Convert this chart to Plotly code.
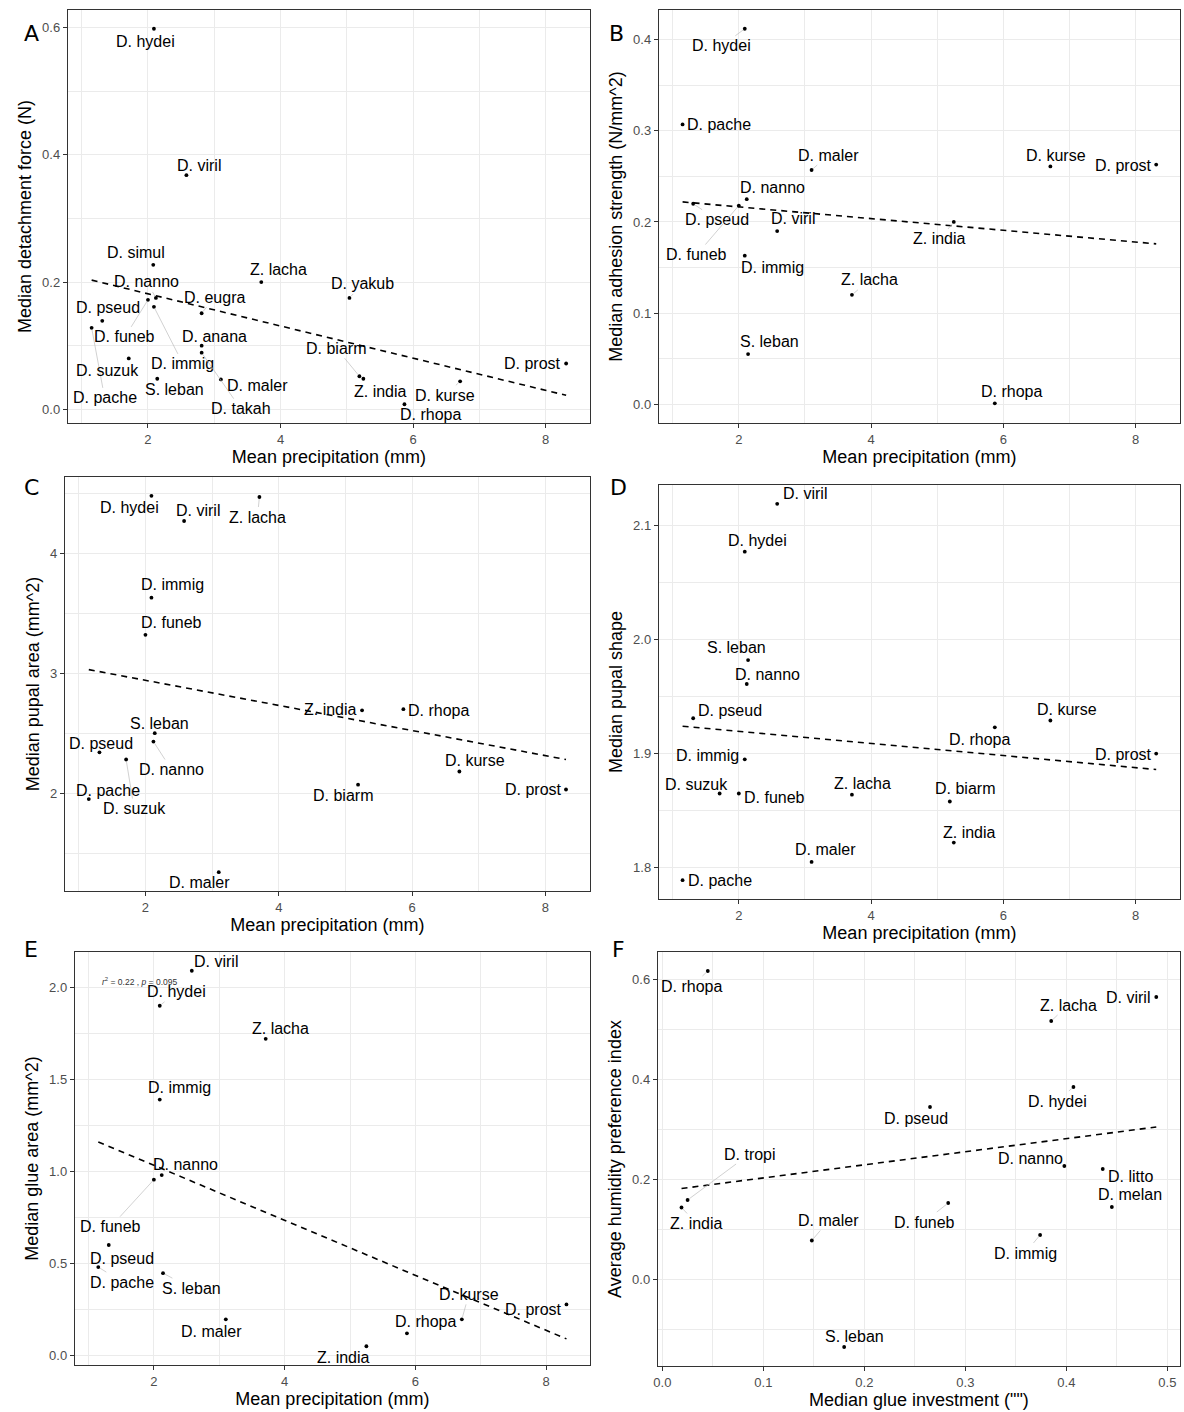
import math
import plotly.graph_objects as go

# ---------------- data ----------------
A_species = ["D. hydei", "D. viril", "D. simul", "D. nanno", "D. funeb", "D. immig", "D. pseud",
             "D. pache", "D. eugra", "D. anana", "D. takah", "D. suzuk", "S. leban", "D. maler",
             "Z. lacha", "D. yakub", "D. biarm", "Z. india", "D. kurse", "D. rhopa", "D. prost"]
A_precip = [2.09, 2.58, 2.08, 2.12, 2.00, 2.09, 1.31, 1.15, 2.81, 2.81, 2.81, 1.71, 2.14, 3.10,
            3.71, 5.04, 5.19, 5.25, 6.71, 5.87, 8.31]
A_force = [0.598, 0.368, 0.227, 0.175, 0.172, 0.161, 0.139, 0.128, 0.151, 0.100, 0.089, 0.080,
           0.048, 0.047, 0.200, 0.175, 0.052, 0.048, 0.044, 0.008, 0.072]
A_trend_x = [1.15, 8.31]
A_trend_y = [0.203, 0.022]

B_species = ["D. hydei", "D. pache", "D. maler", "D. kurse", "D. prost", "D. nanno", "D. pseud",
             "D. funeb", "D. viril", "D. immig", "Z. lacha", "Z. india", "S. leban", "D. rhopa"]
B_precip = [2.09, 1.15, 3.10, 6.71, 8.31, 2.12, 1.31, 2.00, 2.58, 2.09, 3.71, 5.25, 2.14, 5.87]
B_strength = [0.412, 0.307, 0.257, 0.261, 0.263, 0.225, 0.220, 0.218, 0.190, 0.163, 0.120,
              0.200, 0.055, 0.001]
B_trend_x = [1.15, 8.31]
B_trend_y = [0.222, 0.176]

C_species = ["D. hydei", "D. viril", "Z. lacha", "D. immig", "D. funeb", "Z. india", "D. rhopa",
             "S. leban", "D. nanno", "D. pseud", "D. suzuk", "D. pache", "D. biarm", "D. kurse",
             "D. prost", "D. maler"]
C_precip = [2.09, 2.58, 3.71, 2.09, 2.00, 5.25, 5.87, 2.14, 2.12, 1.31, 1.71, 1.15, 5.19, 6.71,
            8.31, 3.10]
C_area = [4.48, 4.27, 4.47, 3.63, 3.32, 2.69, 2.70, 2.50, 2.43, 2.34, 2.28, 1.95, 2.07, 2.18,
          2.03, 1.34]
C_trend_x = [1.15, 8.31]
C_trend_y = [3.03, 2.28]

D_species = ["D. viril", "D. hydei", "S. leban", "D. nanno", "D. pseud", "D. immig", "D. suzuk",
             "D. funeb", "Z. lacha", "D. maler", "D. pache", "D. rhopa", "D. kurse", "D. prost",
             "D. biarm", "Z. india"]
D_precip = [2.58, 2.09, 2.14, 2.12, 1.31, 2.09, 1.71, 2.00, 3.71, 3.10, 1.15, 5.87, 6.71, 8.31,
            5.19, 5.25]
D_shape = [2.119, 2.077, 1.982, 1.961, 1.931, 1.895, 1.865, 1.865, 1.864, 1.805, 1.789, 1.923,
           1.929, 1.900, 1.858, 1.822]
D_trend_x = [1.15, 8.31]
D_trend_y = [1.924, 1.886]

E_species = ["D. viril", "D. hydei", "Z. lacha", "D. immig", "D. nanno", "D. funeb", "D. pseud",
             "D. pache", "S. leban", "D. maler", "Z. india", "D. rhopa", "D. kurse", "D. prost"]
E_precip = [2.58, 2.09, 3.71, 2.09, 2.12, 2.00, 1.31, 1.15, 2.14, 3.10, 5.25, 5.87, 6.71, 8.31]
E_glue = [2.09, 1.90, 1.72, 1.39, 0.98, 0.955, 0.60, 0.48, 0.447, 0.196, 0.05, 0.12, 0.196, 0.277]
E_trend_x = [1.15, 8.31]
E_trend_y = [1.16, 0.09]
E_stat = "<i>r</i><sup>2</sup> = 0.22 , <i>p</i> = 0.095"

F_species = ["D. rhopa", "D. viril", "Z. lacha", "D. hydei", "D. pseud", "D. nanno", "D. litto",
             "D. melan", "D. funeb", "D. immig", "D. maler", "D. tropi", "Z. india", "S. leban"]
F_glue = [0.045, 0.489, 0.385, 0.407, 0.265, 0.398, 0.436, 0.445, 0.283, 0.374, 0.148, 0.025,
          0.019, 0.180]
F_humidity = [0.616, 0.564, 0.516, 0.384, 0.344, 0.226, 0.220, 0.144, 0.152, 0.088, 0.077, 0.158,
              0.143, -0.136]
F_trend_x = [0.019, 0.489]
F_trend_y = [0.181, 0.304]

# ---------------- label placement (pixel offsets, like ggrepel) ----------------
A_off = [(-8, 13), (13, -10), (-17, -12), (-9, -16), (-23, 37), (29, 57), (6, -13), (13, 70),
         (13, -16), (13, -9), (39, 56), (-21, 12), (17, 11), (37, 6), (17, -13), (13, -14),
         (-23, -28), (17, 13), (-15, 14), (26, 10), (-34, 0)]
B_off = [(-23, 17), (36, 0), (17, -15), (6, -11), (-33, 1), (26, -12), (24, 16), (-42, 49),
         (16, -13), (28, 12), (18, -15), (-14, 17), (21, -13), (17, -12)]
C_off = [(-22, 12), (14, -10), (-2, 20), (21, -13), (26, -12), (-32, -1), (35, 1), (5, -10),
         (18, 28), (2, -9), (8, 49), (19, -9), (-15, 11), (16, -11), (-33, 0), (-19, 10)]
D_off = [(28, -10), (13, -11), (-12, -13), (21, -10), (37, -8), (-37, -4), (-23, -9), (36, 4),
         (11, -11), (14, -12), (37, 0), (-15, 12), (17, -11), (-33, 1), (15, -13), (16, -10)]
E_off = [(24, -9), (17, -14), (15, -10), (20, -12), (24, -11), (-43, 47), (13, 13), (24, 15),
         (28, 15), (-14, 12), (-23, 11), (19, -12), (7, -25), (-33, 5)]
F_off = [(-16, 15), (-28, 0), (17, -16), (-16, 14), (-14, 11), (-34, -8), (28, 7), (18, -13),
         (-24, 19), (-15, 18), (17, -20), (62, -46), (15, 16), (10, -11)]

W, H = 1184, 1412
FONT = "Liberation Sans"
LABEL_SIZE = 16

panels = [
    dict(letter="A", sp=A_species, x=A_precip, y=A_force, off=A_off, tx=A_trend_x, ty=A_trend_y,
         box=(64, 588, 10, 423), xr=[0.79, 8.67], yr=[-0.0215, 0.6275], xd=2, yd=0.2, yfmt=".1f",
         xt="Mean precipitation (mm)", yt="Median detachment force (N)", lpos=(18, 19)),
    dict(letter="B", sp=B_species, x=B_precip, y=B_strength, off=B_off, tx=B_trend_x, ty=B_trend_y,
         box=(657, 1180, 10, 423), xr=[0.79, 8.67], yr=[-0.0206, 0.4326], xd=2, yd=0.1, yfmt=".1f",
         xt="Mean precipitation (mm)", yt="Median adhesion strength (N/mm^2)", lpos=(615, 19)),
    dict(letter="C", sp=C_species, x=C_precip, y=C_area, off=C_off, tx=C_trend_x, ty=C_trend_y,
         box=(61, 588, 477, 891), xr=[0.79, 8.67], yr=[1.183, 4.637], xd=2, yd=1, yfmt="d",
         xt="Mean precipitation (mm)", yt="Median pupal area (mm^2)", lpos=(18, 487)),
    dict(letter="D", sp=D_species, x=D_precip, y=D_shape, off=D_off, tx=D_trend_x, ty=D_trend_y,
         box=(657, 1180, 485, 899), xr=[0.79, 8.67], yr=[1.7725, 2.1355], xd=2, yd=0.1, yfmt=".1f",
         xt="Mean precipitation (mm)", yt="Median pupal shape", lpos=(617, 487)),
    dict(letter="E", sp=E_species, x=E_precip, y=E_glue, off=E_off, tx=E_trend_x, ty=E_trend_y,
         box=(71, 588, 952, 1365), xr=[0.79, 8.67], yr=[-0.052, 2.192], xd=2, yd=0.5, yfmt=".1f",
         xt="Mean precipitation (mm)", yt="Median glue area (mm^2)", lpos=(18, 964)),
    dict(letter="F", sp=F_species, x=F_glue, y=F_humidity, off=F_off, tx=F_trend_x, ty=F_trend_y,
         box=(656, 1180, 952, 1366), xr=[-0.0045, 0.5125], yr=[-0.174, 0.654], xd=0.1, yd=0.2,
         yfmt=".1f", xfmt=".1f",
         xt='Median glue investment ("")', yt="Average humidity preference index", lpos=(617, 964)),
]

fig = go.Figure()
annotations = []
layout_axes = {}

for i, p in enumerate(panels, start=1):
    sfx = "" if i == 1 else str(i)
    xref, yref = "x" + sfx, "y" + sfx
    l, r, t, b = p["box"]
    layout_axes["xaxis" + sfx] = dict(
        domain=[l / W, r / W], range=p["xr"], anchor=yref,
        tick0=0, dtick=p["xd"], tickformat=p.get("xfmt", "d"),
        showgrid=True, gridcolor="#EBEBEB", gridwidth=1,
        minor=dict(showgrid=True, gridcolor="#EBEBEB", gridwidth=0.5, dtick=p["xd"] / 2, tick0=0),
        zeroline=False, showline=True, mirror=True, linecolor="#333333", linewidth=1,
        ticks="outside", ticklen=4, tickcolor="#333333", tickwidth=1,
        tickfont=dict(family=FONT, size=13, color="#4D4D4D"),
        title=dict(text=p["xt"], font=dict(family=FONT, size=18, color="#000000"), standoff=4),
    )
    layout_axes["yaxis" + sfx] = dict(
        domain=[1 - b / H, 1 - t / H], range=p["yr"], anchor=xref,
        tick0=0, dtick=p["yd"], tickformat=p["yfmt"],
        showgrid=True, gridcolor="#EBEBEB", gridwidth=1,
        minor=dict(showgrid=True, gridcolor="#EBEBEB", gridwidth=0.5, dtick=p["yd"] / 2, tick0=0),
        zeroline=False, showline=True, mirror=True, linecolor="#333333", linewidth=1,
        ticks="outside", ticklen=4, tickcolor="#333333", tickwidth=1,
        tickfont=dict(family=FONT, size=13, color="#4D4D4D"),
        title=dict(text=p["yt"], font=dict(family=FONT, size=18, color="#000000"), standoff=5),
    )
    # trend line
    fig.add_trace(go.Scatter(x=p["tx"], y=p["ty"], mode="lines", xaxis=xref, yaxis=yref,
                             line=dict(color="black", width=1.6, dash="6px,5px"),
                             showlegend=False, hoverinfo="skip"))
    # points
    fig.add_trace(go.Scatter(x=p["x"], y=p["y"], mode="markers", xaxis=xref, yaxis=yref,
                             marker=dict(color="black", size=3.8), text=p["sp"],
                             showlegend=False))
    # labels
    for name, xv, yv, (dx, dy) in zip(p["sp"], p["x"], p["y"], p["off"]):
        hw = len(name) * 4.1
        hh = 8
        gap = math.hypot(max(0, abs(dx) - hw), max(0, abs(dy) - hh))
        base = dict(x=xv, y=yv, xref=xref, yref=yref, text=name,
                    font=dict(family=FONT, size=LABEL_SIZE, color="black"))
        if gap > 5:
            base.update(showarrow=True, ax=dx, ay=dy, axref="pixel", ayref="pixel",
                        arrowhead=0, arrowwidth=0.7, arrowcolor="#BDBDBD", standoff=2)
        else:
            base.update(showarrow=False, xshift=dx, yshift=-dy)
        annotations.append(base)
    # panel letter
    lx, ly = p["lpos"]
    annotations.append(dict(x=lx / W, y=1 - ly / H, xref="paper", yref="paper",
                            text=p["letter"], showarrow=False,
                            font=dict(family="DejaVu Sans", size=22, color="black")))

# stat annotation in panel E
annotations.append(dict(x=1.78, y=2.03, xref="x5", yref="y5", text=E_stat, showarrow=False,
                        font=dict(family=FONT, size=8.5, color="#333333")))

fig.update_layout(
    width=W, height=H, margin=dict(l=0, r=0, t=0, b=0),
    paper_bgcolor="white", plot_bgcolor="white",
    annotations=annotations, **layout_axes,
)

fig.write_html("out.html")
